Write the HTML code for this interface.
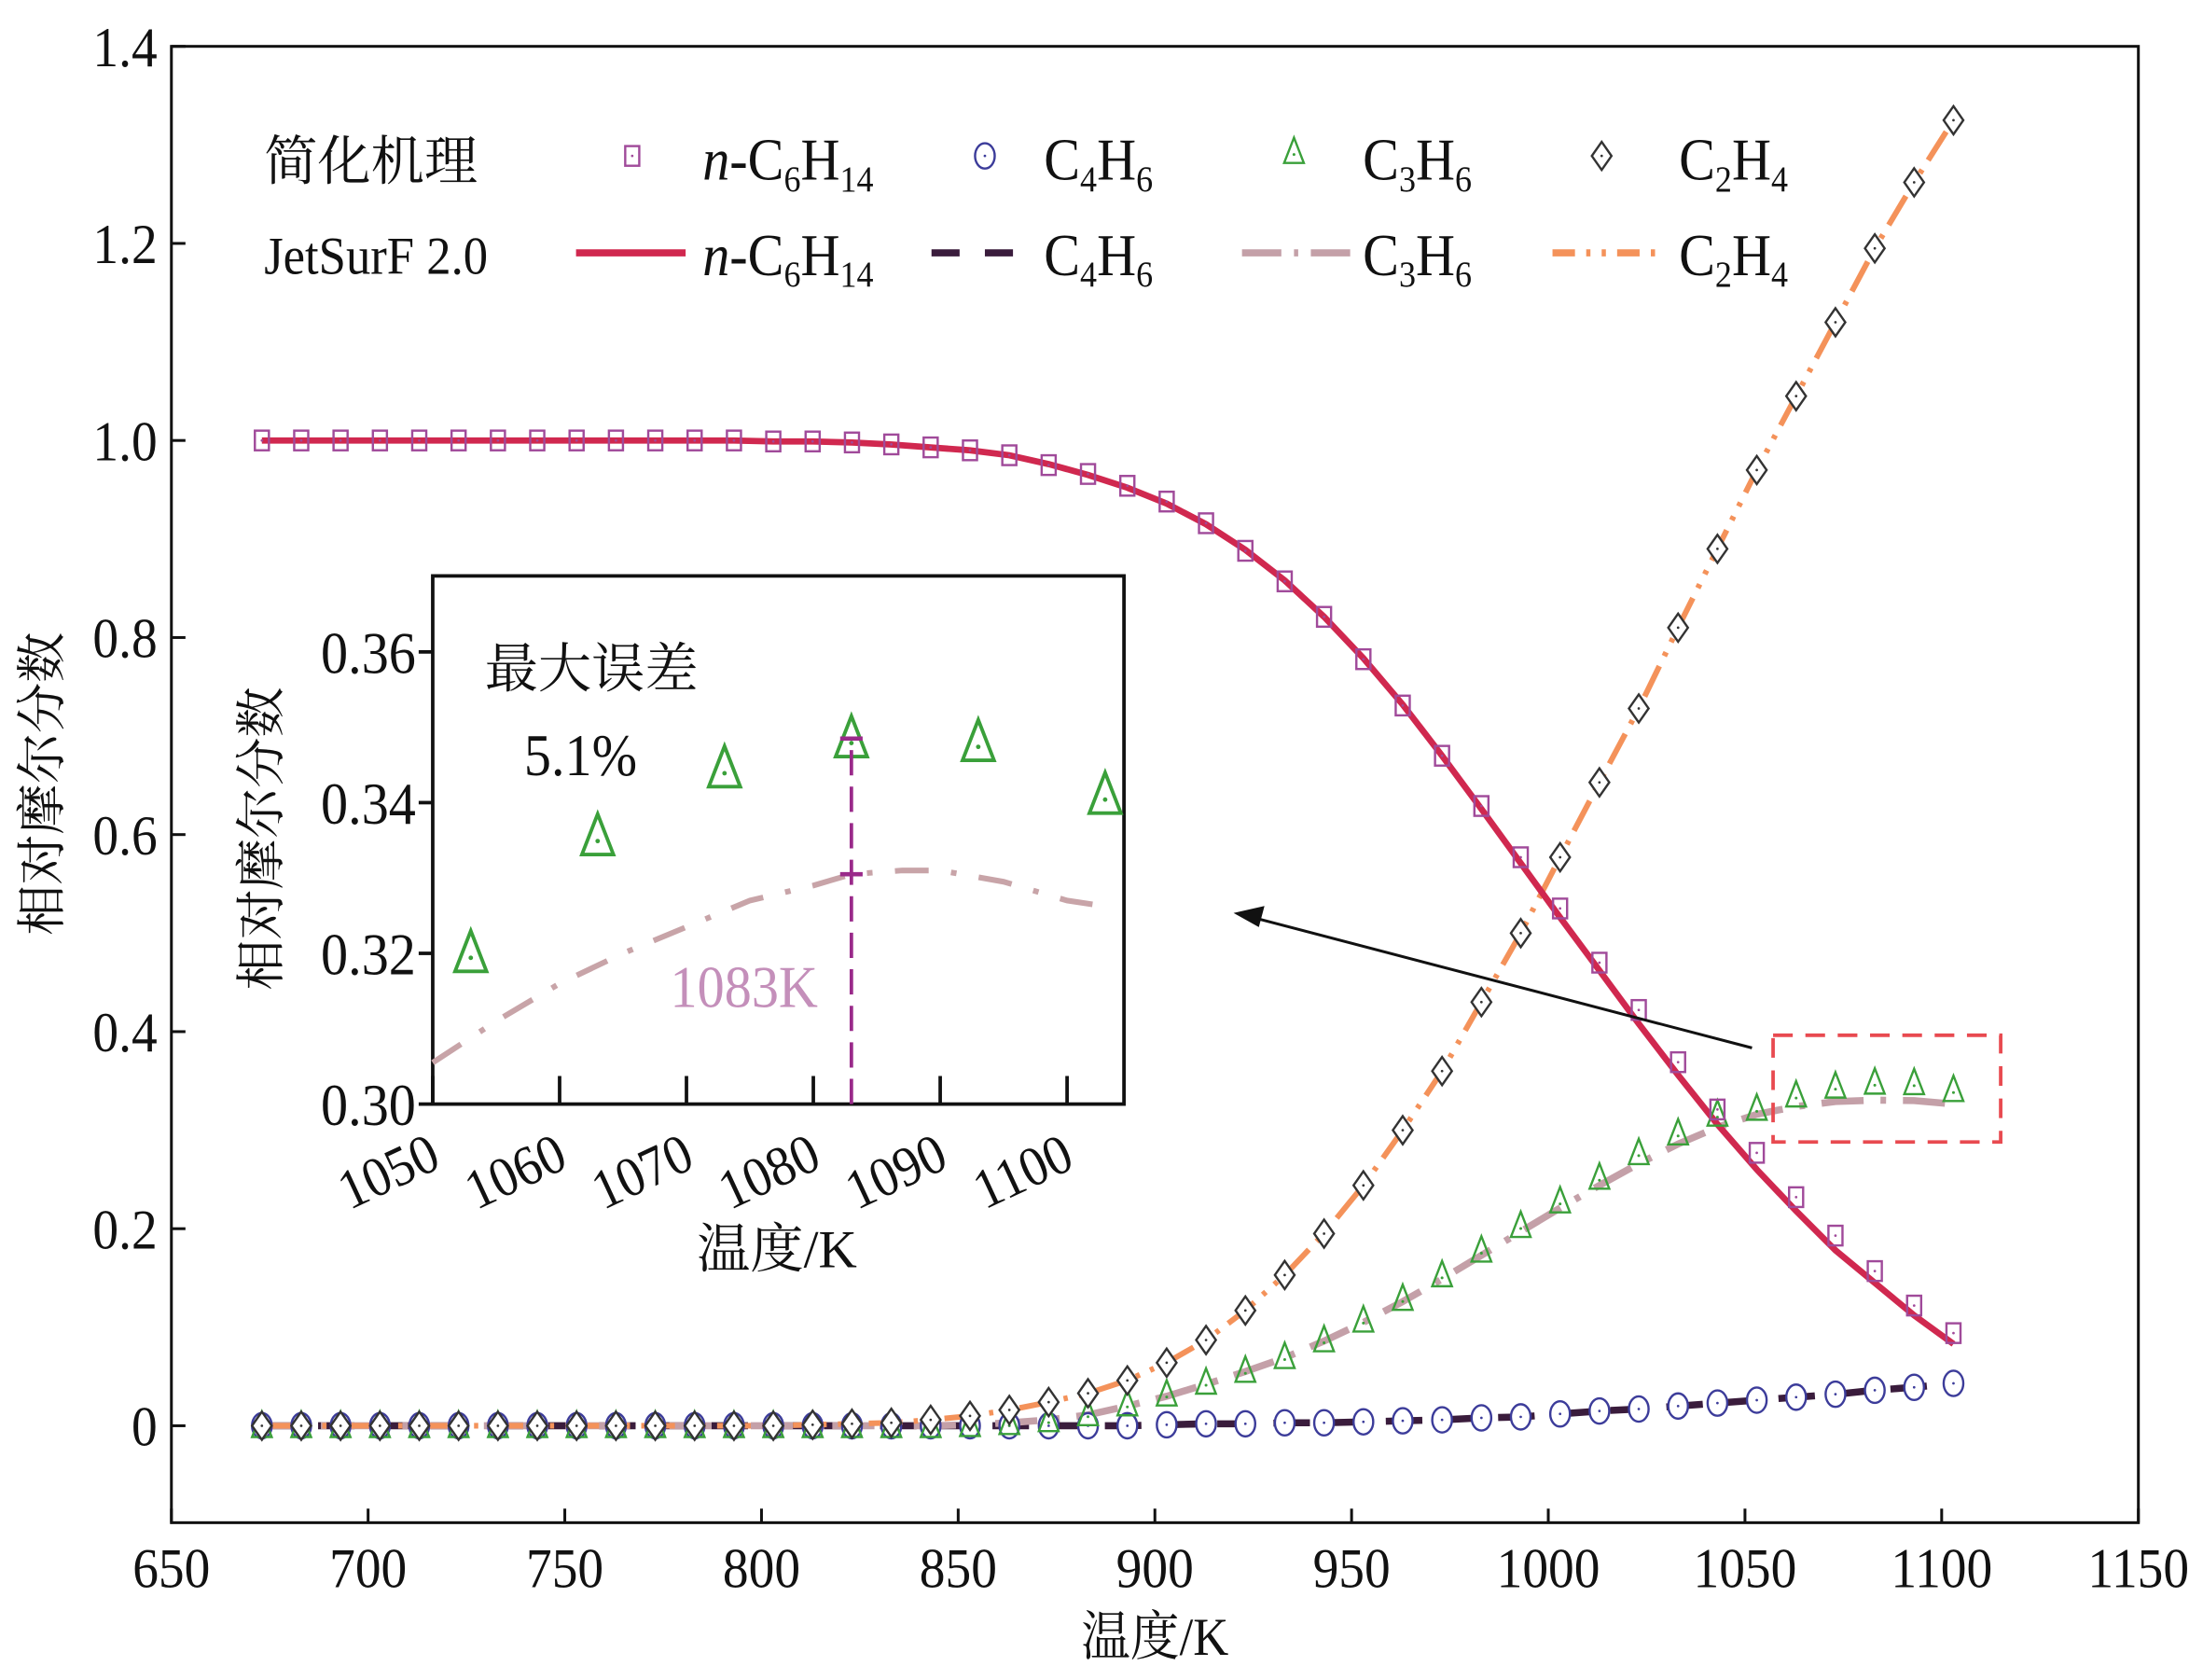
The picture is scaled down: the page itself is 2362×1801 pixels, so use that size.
<!DOCTYPE html>
<html><head><meta charset="utf-8">
<style>
html,body{margin:0;padding:0;background:#fff;}
svg{display:block;}
text{font-family:"Liberation Serif","Noto Serif CJK SC",serif;fill:#111;}
</style></head>
<body>
<svg id="chart" width="2362" height="1801" viewBox="0 0 1568 1196" preserveAspectRatio="none" xmlns="http://www.w3.org/2000/svg">
<rect width="1568" height="1196" fill="#fff"/>
<g id="main"></g>
<g id="inset"></g>
</svg>
<script>
const temps = [673,683,693,703,713,723,733,743,753,763,773,783,793,803,813,823,833,843,853,863,873,883,893,903,913,923,933,943,953,963,973,983,993,1003,1013,1023,1033,1043,1053,1063,1073,1083,1093,1103];
const hexMarkers = [1,1,1,1,1,1,1,1,1,1,1,1,1,0.999,0.999,0.998,0.996,0.993,0.99,0.985,0.975,0.966,0.954,0.938,0.916,0.888,0.857,0.821,0.778,0.731,0.68,0.629,0.577,0.525,0.47,0.422,0.369,0.321,0.277,0.232,0.193,0.157,0.122,0.094];
const hexLine = [1,1,1,1,1,1,1,1,1,1,1,1,1,0.999,0.999,0.998,0.996,0.993,0.99,0.985,0.976,0.965,0.952,0.936,0.915,0.889,0.858,0.821,0.779,0.732,0.68,0.626,0.571,0.516,0.462,0.408,0.356,0.306,0.26,0.218,0.178,0.145,0.112,0.083];
const c4Markers = [0,0,0,0,0,0,0,0,0,0,0,0,0,0,0,0,0,0,0,0,0,0,0,0.001,0.002,0.002,0.003,0.003,0.004,0.005,0.006,0.008,0.009,0.012,0.015,0.017,0.02,0.023,0.026,0.029,0.032,0.036,0.039,0.043];
const c3Markers = [0,0,0,0,0,0,0,0,0,0,0,0,0,0,0,0,0,0,0.001,0.003,0.006,0.012,0.022,0.032,0.044,0.056,0.07,0.087,0.107,0.129,0.153,0.178,0.203,0.228,0.252,0.277,0.297,0.316,0.322,0.3355,0.3445,0.3485,0.348,0.341];
const c3Line = [0,0,0,0,0,0,0,0,0,0,0,0,0,0,0,0,0,0,0.001,0.003,0.006,0.011,0.02,0.03,0.042,0.055,0.069,0.086,0.105,0.126,0.149,0.173,0.197,0.221,0.244,0.266,0.286,0.303,0.316,0.324,0.329,0.3305,0.330,0.3265];
const c2Markers = [0,0,0,0,0,0,0,0,0,0,0,0,0,0,0.001,0.002,0.003,0.006,0.01,0.016,0.024,0.033,0.046,0.064,0.087,0.117,0.153,0.195,0.244,0.3,0.36,0.43,0.5,0.577,0.653,0.728,0.81,0.89,0.97,1.045,1.12,1.195,1.262,1.325];
const yTicks = [0,0.2,0.4,0.6,0.8,1.0,1.2,1.4];
const yTickLabels = ["0","0.2","0.4","0.6","0.8","1.0","1.2","1.4"];
const xTicks = [650,700,750,800,850,900,950,1000,1050,1100,1150];
const insetT = [1053,1063,1073,1083,1093,1103];
const insetC3 = [0.320,0.3355,0.3445,0.3485,0.348,0.341];
const insetLineT = [1050,1055,1060,1065,1070,1075,1080,1083,1087,1090,1095,1100,1102];
const insetLineV = [0.3055,0.311,0.316,0.320,0.3235,0.327,0.329,0.3305,0.331,0.331,0.3295,0.327,0.3265];
const insetXTicks = [1050,1060,1070,1080,1090,1100];
const insetYTicks = [0.30,0.32,0.34,0.36];
const insetYLabels = ["0.30","0.32","0.34","0.36"];

const NS="http://www.w3.org/2000/svg";
function mk(parent,tag,attrs,txt){const e=document.createElementNS(NS,tag);for(const k in attrs)e.setAttribute(k,attrs[k]);if(txt!==undefined)e.textContent=txt;parent.appendChild(e);return e;}
// condensed text helper: scaleX around anchor
function ctext(parent,x,y,size,str,anchor,extra){
 const t=mk(parent,'text',Object.assign({x:0,y:0,'text-anchor':anchor||'start','font-size':size,transform:`translate(${x},${y}) scale(0.92,1)`},extra||{}),str);
 return t;
}
const main=document.getElementById('main');
const L=122,R=1522,T=33,B=1084;
const X=t=>L+(t-650)/(1150-650)*(R-L);
const Y=v=>1015-v*(1015-33)/1.4;
let e;
e=mk(main,'rect',{x:L,y:T,width:R-L,height:B-T,fill:'none',stroke:'#111','stroke-width':2});

yTicks.forEach((v,i)=>{
 e=mk(main,'line',{x1:L,x2:L+10,y1:Y(v),y2:Y(v),stroke:'#111','stroke-width':2});
 
 e=ctext(main,112,Y(v)+14,40,yTickLabels[i],'end');
 
});
xTicks.forEach(t=>{
 e=mk(main,'line',{x1:X(t),x2:X(t),y1:B,y2:B-10,stroke:'#111','stroke-width':2});
 
 e=ctext(main,X(t),1130,40,String(t),'middle');
 
});
e=ctext(main,822,1178,38,'温度/K','middle');

e=mk(main,'text',{x:0,y:0,'text-anchor':'middle','font-size':36,transform:'translate(42,558) rotate(-90)'},'相对摩尔分数');


function path(ts,vs,xf,yf){return ts.map((t,i)=>(i?'L':'M')+xf(t).toFixed(1)+' '+yf(vs[i]).toFixed(1)).join(' ');}
e=mk(main,'path',{d:path(temps,c4Markers,X,Y),fill:'none',stroke:'#3a1c3c','stroke-width':5,'stroke-dasharray':'26 14'});

e=mk(main,'path',{d:path(temps,c3Line,X,Y),fill:'none',stroke:'#c4a0a8','stroke-width':5,'stroke-dasharray':'30 12 4 12'});

e=mk(main,'path',{d:path(temps,c2Markers,X,Y),fill:'none',stroke:'#f4925a','stroke-width':4,'stroke-dasharray':'24 8 3 8 3 8'});

e=mk(main,'path',{d:path(temps,hexLine,X,Y),fill:'none',stroke:'#d0284f','stroke-width':4.5});


function square(g,x,y,c){const r=mk(g,'rect',{x:x-5,y:y-7,width:10,height:14,fill:'none',stroke:c,'stroke-width':1.6});mk(g,'circle',{cx:x,cy:y,r:0.9,fill:c});return r;}
function circ(g,x,y,c){const r=mk(g,'ellipse',{cx:x,cy:y,rx:7,ry:9,fill:'#fff',stroke:c,'stroke-width':1.6});mk(g,'circle',{cx:x,cy:y,r:0.9,fill:c});return r;}
function tri(g,x,y,c,s){s=s||1;const r=mk(g,'path',{d:`M${x} ${y-10*s} L${x+7*s} ${y+8*s} L${x-7*s} ${y+8*s} Z`,fill:'none',stroke:c,'stroke-width':1.6*s});mk(g,'circle',{cx:x,cy:y+2*s,r:1*s,fill:c});return r;}
function dia(g,x,y,c){const r=mk(g,'path',{d:`M${x} ${y-10} L${x+7} ${y} L${x} ${y+10} L${x-7} ${y} Z`,fill:'#fff',stroke:c,'stroke-width':1.6});mk(g,'circle',{cx:x,cy:y,r:0.9,fill:c});return r;}
temps.forEach((t,i)=>{
 e=circ(main,X(t),Y(c4Markers[i]),'#3c3c9a');
 
 e=tri(main,X(t),Y(c3Markers[i]),'#3aa03a');
 
 e=square(main,X(t),Y(hexMarkers[i]),'#a04a9a');
 
});
temps.forEach((t,i)=>{
 e=dia(main,X(t),Y(c2Markers[i]),'#333');
 
});
e=mk(main,'rect',{x:1262,y:737,width:162,height:76,fill:'none',stroke:'#e84a50','stroke-width':2.5,'stroke-dasharray':'14 9'});

e=mk(main,'line',{x1:1247,y1:746,x2:895,y2:654,stroke:'#111','stroke-width':2});

e=mk(main,'path',{d:'M878 650 L900 645 L896 660 Z',fill:'#111'});


const lg=mk(main,'g',{});

e=mk(lg,'text',{x:188,y:128,'font-size':38},'简化机理');
e=ctext(lg,188,195,38,'JetSurF 2.0','start');
function formula(x,y,parts){const t=mk(lg,'text',{x:0,y:0,'font-size':42,transform:`translate(${x},${y}) scale(0.92,1)`});parts.forEach(p=>{mk(t,'tspan',p[1]==='sub'?{'font-size':26,dy:8}:(p[1]==='up'?{dy:-8}:(p[1]==='i'?{'font-style':'italic'}:{})),p[0]);});return t;}
const F={hex:[['n','i'],['-C'],['6','sub'],['H','up'],['14','sub']],c4:[['C'],['4','sub'],['H','up'],['6','sub']],c3:[['C'],['3','sub'],['H','up'],['6','sub']],c2:[['C'],['2','sub'],['H','up'],['4','sub']]};
[[500,'hex'],[743,'c4'],[970,'c3'],[1195,'c2']].forEach(([x,k])=>{
 e=formula(x,128,F[k]);
 e=formula(x,196,F[k]);
});
e=square(lg,450,111,'#a04a9a');
e=circ(lg,701,111,'#3c3c9a');
e=tri(lg,921,108,'#3aa03a');
e=dia(lg,1140,111,'#333');
e=mk(lg,'line',{x1:410,x2:488,y1:180,y2:180,stroke:'#d0284f','stroke-width':5});
e=mk(lg,'line',{x1:663,x2:728,y1:180,y2:180,stroke:'#3a1c3c','stroke-width':5,'stroke-dasharray':'20 18'});
e=mk(lg,'line',{x1:884,x2:962,y1:180,y2:180,stroke:'#c4a0a8','stroke-width':5,'stroke-dasharray':'28 9 3 9'});
e=mk(lg,'line',{x1:1105,x2:1182,y1:180,y2:180,stroke:'#f4925a','stroke-width':5,'stroke-dasharray':'16 8 3 8 3 8'});

const ins=document.getElementById('inset');
const iL=308,iR=800,iT=410,iB=786;
const IX=t=>iL+(t-1050)*9.03;
const IY=v=>786-(v-0.30)/0.02*107.3;
e=mk(ins,'rect',{x:iL,y:iT,width:iR-iL,height:iB-iT,fill:'#fff',stroke:'#111','stroke-width':2.5});

insetYTicks.forEach((v,i)=>{
 e=mk(ins,'line',{x1:iL-10,x2:iL,y1:IY(v),y2:IY(v),stroke:'#111','stroke-width':2.5});
 
 e=ctext(ins,296,IY(v)+15,42,insetYLabels[i],'end');
 
});
insetXTicks.forEach(t=>{
 e=mk(ins,'line',{x1:IX(t),x2:IX(t),y1:iB,y2:iB-20,stroke:'#111','stroke-width':2.5});
 
 e=mk(ins,'text',{x:0,y:0,'text-anchor':'middle','font-size':40,transform:`translate(${IX(t)-26},${846}) rotate(-25) scale(0.92,1)`},String(t));
 
});
e=mk(ins,'text',{x:553,y:902,'text-anchor':'middle','font-size':38},'温度/K');

e=mk(ins,'text',{x:0,y:0,'text-anchor':'middle','font-size':36,transform:'translate(198,597) rotate(-90)'},'相对摩尔分数');

e=mk(ins,'path',{d:path(insetLineT,insetLineV,IX,IY),fill:'none',stroke:'#c8a4a8','stroke-width':4,'stroke-dasharray':'24 16 4 16'});

insetT.forEach((t,i)=>{
 e=tri(ins,IX(t),IY(insetC3[i]),'#3aa03a',1.6);
 
});
e=mk(ins,'line',{x1:IX(1083),x2:IX(1083),y1:iB,y2:IY(0.3485),stroke:'#9a2a8a','stroke-width':2.5,'stroke-dasharray':'18 8'});

e=mk(ins,'line',{x1:IX(1083)-8,x2:IX(1083)+8,y1:IY(0.3485),y2:IY(0.3485),stroke:'#9a2a8a','stroke-width':3});

e=mk(ins,'line',{x1:IX(1083)-8,x2:IX(1083)+8,y1:IY(0.3305),y2:IY(0.3305),stroke:'#9a2a8a','stroke-width':3});

e=mk(ins,'text',{x:345,y:489,'font-size':38},'最大误差');

e=ctext(ins,373,552,42,'5.1%','start');

e=ctext(ins,477,717,42,'1083K','start',{style:'fill:#c48fba'});

</script>
</body></html>
